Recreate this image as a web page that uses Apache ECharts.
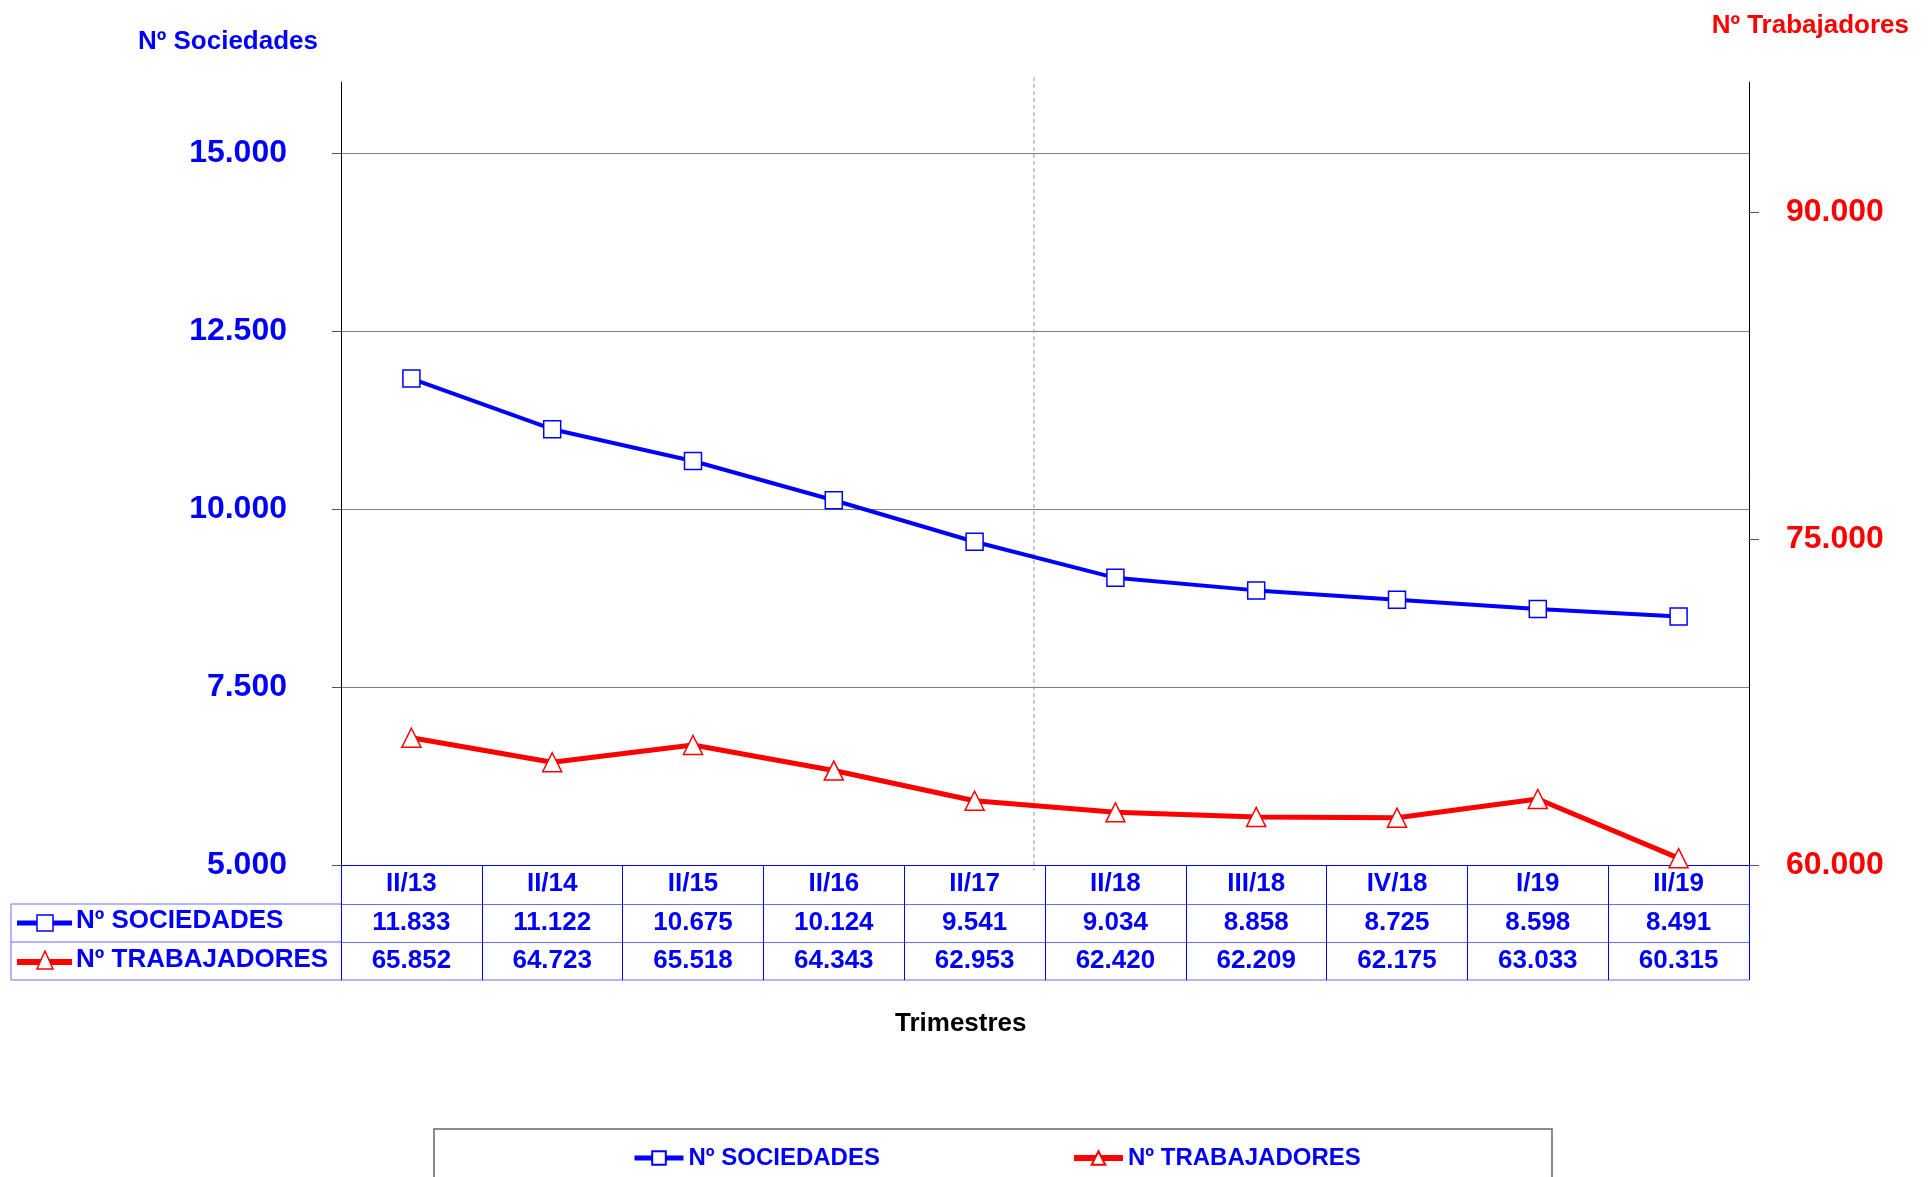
<!DOCTYPE html>
<html>
<head>
<meta charset="utf-8">
<script src="https://cdn.jsdelivr.net/npm/echarts@6/dist/echarts.min.js"></script>
<style>
  html, body { margin: 0; padding: 0; background: #fff; }
  #chart { width: 1928px; height: 1177px; }
</style>
</head>
<body>
<div id="chart"></div>
<script>
// datos por trimestre
var trimestres = ['II/13', 'II/14', 'II/15', 'II/16', 'II/17', 'II/18', 'III/18', 'IV/18', 'I/19', 'II/19'];
var sociedades = [11833, 11122, 10675, 10124, 9541, 9034, 8858, 8725, 8598, 8491];
var trabajadores = [65852, 64723, 65518, 64343, 62953, 62420, 62209, 62175, 63033, 60315];
var ticksSoc = [5000, 7500, 10000, 12500, 15000];
var ticksTrab = [60000, 75000, 90000];

var FONT = "'Liberation Sans', Arial, sans-serif";
var BLUE = '#0000ff';
var RED = '#ff0000';
var ROWLINE = '#6b6bff';

// 11833 -> "11.833"
function fmt(n) {
  return String(n).replace(/\B(?=(\d{3})+(?!\d))/g, '.');
}

var chart = echarts.init(document.getElementById('chart'));

function tableAxis(data, offset) {
  return {
    type: 'category',
    position: 'bottom',
    offset: offset,
    data: data,
    boundaryGap: true,
    axisLine: { show: true, lineStyle: { color: offset === 0 ? BLUE : ROWLINE, width: 1 } },
    axisTick: { show: true, interval: 0, inside: false, length: offset === 0 ? 39 : 38,
      lineStyle: { color: BLUE, width: 1 } },
    axisLabel: { interval: 0, margin: 6, color: BLUE, fontFamily: FONT, fontWeight: 'bold', fontSize: 26 },
    splitLine: { show: false }
  };
}

var option = {
  backgroundColor: '#fff',
  animation: false,
  title: [
    { text: 'Nº Sociedades', left: 133, top: 24,
      textStyle: { color: BLUE, fontFamily: FONT, fontWeight: 'bold', fontSize: 26 } },
    { text: 'Nº Trabajadores', right: 14, top: 8,
      textStyle: { color: RED, fontFamily: FONT, fontWeight: 'bold', fontSize: 26 } }
  ],
  grid: { left: 341, right: 179, top: 82, bottom: 312 },
  legend: {
    left: 627, top: 1141,
    itemWidth: 49, itemHeight: 17, itemGap: 191,
    data: [
      { name: 'Nº SOCIEDADES', lineStyle: { width: 5 } },
      { name: 'Nº TRABAJADORES', lineStyle: { width: 6 } }
    ],
    textStyle: { color: BLUE, fontFamily: FONT, fontWeight: 'bold', fontSize: 24 }
  },
  xAxis: [
    tableAxis(trimestres, 0),
    tableAxis(sociedades.map(fmt), 39),
    tableAxis(trabajadores.map(fmt), 77)
  ],
  yAxis: [
    {
      type: 'value', position: 'left', min: 5000, max: 16000, interval: 2500,
      axisLine: { show: true, lineStyle: { color: '#000', width: 1 } },
      axisTick: { show: true, length: 9, customValues: ticksSoc, lineStyle: { color: '#555' } },
      axisLabel: { customValues: ticksSoc, margin: 54, formatter: fmt, color: BLUE,
        fontFamily: FONT, fontWeight: 'bold', fontSize: 32 },
      splitLine: { show: true, showMinLine: false, showMaxLine: true,
        lineStyle: { color: '#808080', width: 1 } }
    },
    {
      type: 'value', position: 'right', min: 60000, max: 96000, interval: 15000,
      axisLine: { show: true, lineStyle: { color: '#000', width: 1 } },
      axisTick: { show: true, length: 10, customValues: ticksTrab, lineStyle: { color: '#555' } },
      axisLabel: { customValues: ticksTrab, margin: 37, formatter: fmt, color: RED,
        fontFamily: FONT, fontWeight: 'bold', fontSize: 32 },
      splitLine: { show: false }
    }
  ],
  series: [
    {
      name: 'Nº SOCIEDADES', type: 'line', xAxisIndex: 0, yAxisIndex: 0,
      data: sociedades,
      symbol: 'rect', symbolSize: 17,
      lineStyle: { color: BLUE, width: 4 },
      itemStyle: { color: '#fff', borderColor: BLUE, borderWidth: 1.5 },
      z: 3
    },
    {
      name: 'Nº TRABAJADORES', type: 'line', xAxisIndex: 0, yAxisIndex: 1,
      data: trabajadores,
      symbol: 'triangle', symbolSize: 19,
      lineStyle: { color: RED, width: 5 },
      itemStyle: { color: '#fff', borderColor: RED, borderWidth: 1.5 },
      z: 3
    }
  ],
  graphic: [
    // linea vertical discontinua
    { type: 'line', shape: { x1: 1034, y1: 77, x2: 1034, y2: 870 },
      style: { stroke: '#999', lineWidth: 1, lineDash: [4, 3] }, z: 1 },
    // columna de etiquetas de la tabla
    { type: 'line', shape: { x1: 11, y1: 904, x2: 341, y2: 904 }, style: { stroke: ROWLINE, lineWidth: 1 } },
    { type: 'line', shape: { x1: 11, y1: 942, x2: 341, y2: 942 }, style: { stroke: ROWLINE, lineWidth: 1 } },
    { type: 'line', shape: { x1: 11, y1: 980, x2: 1749, y2: 980 }, style: { stroke: ROWLINE, lineWidth: 1 } },
    { type: 'line', shape: { x1: 11, y1: 904, x2: 11, y2: 980 }, style: { stroke: ROWLINE, lineWidth: 1 } },
    { type: 'line', shape: { x1: 17, y1: 923, x2: 72, y2: 923 }, style: { stroke: BLUE, lineWidth: 5 } },
    { type: 'rect', shape: { x: 37, y: 915, width: 16, height: 16 },
      style: { fill: '#fff', stroke: BLUE, lineWidth: 1.5 } },
    { type: 'text', left: 76, top: 908,
      style: { text: 'Nº SOCIEDADES', fill: BLUE, font: "bold 26px 'Liberation Sans', Arial, sans-serif" } },
    { type: 'line', shape: { x1: 17, y1: 962, x2: 72, y2: 962 }, style: { stroke: RED, lineWidth: 6 } },
    { type: 'polygon', shape: { points: [[45, 951], [37, 969], [53, 969]] },
      style: { fill: '#fff', stroke: RED, lineWidth: 1.5 } },
    { type: 'text', left: 76, top: 947,
      style: { text: 'Nº TRABAJADORES', fill: BLUE, font: "bold 26px 'Liberation Sans', Arial, sans-serif" } },
    // titulo eje x
    { type: 'text', left: 895, top: 1011,
      style: { text: 'Trimestres', fill: '#000', font: "bold 26px 'Liberation Sans', Arial, sans-serif" } },
    // caja de la leyenda
    { type: 'rect', shape: { x: 434, y: 1129, width: 1118, height: 80 },
      style: { fill: 'none', stroke: '#666', lineWidth: 1.5 }, z: -1 }
  ]
};

chart.setOption(option);
</script>
</body>
</html>
